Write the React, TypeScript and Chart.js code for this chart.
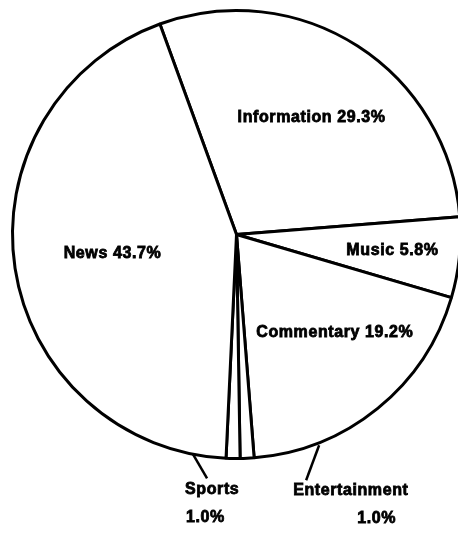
import React, { useEffect, useRef } from "react";
import { Chart, registerables } from "chart.js";

Chart.register(...registerables);

const categories = ["Information", "Music", "Commentary", "Entertainment", "Sports", "News"];
const shares = [29.3, 5.8, 19.2, 1.0, 1.0, 43.7];
const shareLabels = ["29.3%", "5.8%", "19.2%", "1.0%", "1.0%", "43.7%"];

// label placement styles (radial fraction, angular nudge in degrees, inside/outside)
const labelRadius = [0.62, 0.7, 0.62, 0, 0, 0.56];
const labelNudge = [0, 0, -6, 0, 0, 0];
const outsideLabel = [false, false, false, true, true, false];

const FONT = "bold 16px 'Liberation Sans', Arial, sans-serif";

const labelPlugin = {
  id: "pieLabels",
  afterDraw(chart: any) {
    const ctx = chart.ctx as CanvasRenderingContext2D;
    const meta = chart.getDatasetMeta(0);
    ctx.save();
    ctx.fillStyle = "#000";
    ctx.strokeStyle = "#000";
    ctx.font = FONT;
    (ctx as any).letterSpacing = "0.6px";
    ctx.textBaseline = "middle";
    const heavy = (t: string, x: number, y: number) => {
      ctx.lineWidth = 0.8;
      ctx.fillText(t, x, y);
      ctx.strokeText(t, x, y);
    };
    meta.data.forEach((arc: any, i: number) => {
      const p = arc.getProps(["x", "y", "startAngle", "endAngle", "outerRadius"], true);
      const mid = (p.startAngle + p.endAngle) / 2 + (labelNudge[i] * Math.PI) / 180;
      if (!outsideLabel[i]) {
        const r = p.outerRadius * labelRadius[i];
        const lx = p.x + Math.cos(mid) * r;
        const ly = p.y + Math.sin(mid) * r;
        ctx.textAlign = "center";
        heavy(categories[i] + " " + shareLabels[i], lx, ly);
      } else {
        const ex = p.x + Math.cos(mid) * p.outerRadius;
        const ey = p.y + Math.sin(mid) * p.outerRadius;
        const isSports = categories[i] === "Sports";
        ctx.lineWidth = 2.5;
        ctx.beginPath();
        if (isSports) {
          ctx.moveTo(ex - 40, ey - 4);
          ctx.lineTo(ex - 26, ey + 20);
          ctx.stroke();
          ctx.textAlign = "left";
          heavy(categories[i], ex - 48, ey + 31);
          heavy(shareLabels[i], ex - 47, ey + 59);
        } else {
          ctx.moveTo(ex + 72, ey - 13);
          ctx.lineTo(ex + 59, ey + 22);
          ctx.stroke();
          ctx.textAlign = "left";
          heavy(categories[i], ex + 46, ey + 32);
          ctx.textAlign = "right";
          heavy(shareLabels[i], ex + 149, ey + 60);
        }
      }
    });
    ctx.restore();
  },
};

export default function App() {
  const ref = useRef<HTMLCanvasElement | null>(null);
  useEffect(() => {
    if (!ref.current) return;
    const chart = new Chart(ref.current, {
      type: "pie",
      data: {
        labels: categories,
        datasets: [
          {
            data: shares,
            backgroundColor: "#ffffff",
            borderColor: "#000000",
            borderWidth: 3,
          },
        ],
      },
      options: {
        animation: false,
        responsive: true,
        maintainAspectRatio: false,
        rotation: -20,
        layout: { padding: { left: 11, top: 8, right: 10, bottom: 73 } },
        plugins: { legend: { display: false }, tooltip: { enabled: false } },
      },
      plugins: [labelPlugin],
    });
    return () => chart.destroy();
  }, []);
  return (
    <div style={{ position: "fixed", left: 0, top: 0, width: 458, height: 534, overflow: "hidden", background: "#fff" }}>
      <div style={{ position: "relative", width: 472, height: 534 }}>
        <canvas ref={ref} />
      </div>
    </div>
  );
}
